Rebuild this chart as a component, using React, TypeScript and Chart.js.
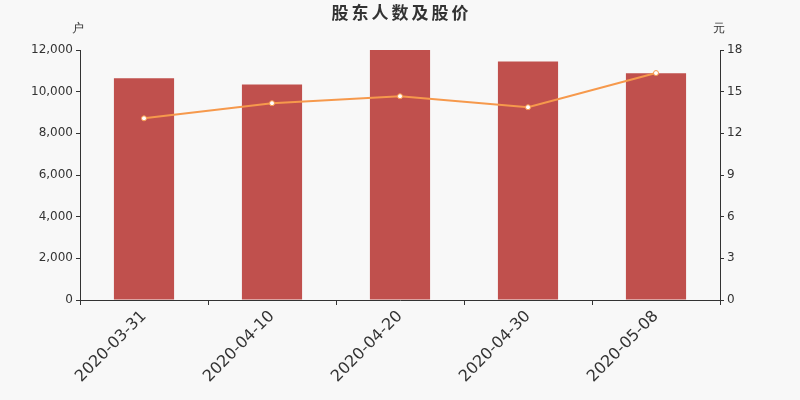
import { useEffect, useRef } from "react";
import { Chart, registerables } from "chart.js";

Chart.register(...registerables);

const dates = ["2020-03-31", "2020-04-10", "2020-04-20", "2020-04-30", "2020-05-08"];
const holders = [10650, 10340, 12000, 11450, 10890];
const prices = [13.08, 14.17, 14.67, 13.88, 16.34];
const leftTicks = [0, 2000, 4000, 6000, 8000, 10000, 12000];
const rightTicks = [0, 3, 6, 9, 12, 15, 18];

const FONT = "'DejaVu Sans', sans-serif";

// draws the title and the unit labels above both y axes
const extraText = {
  id: "extraText",
  beforeDraw(chart: Chart) {
    const { ctx } = chart;
    ctx.save();
    ctx.fillStyle = "#f8f8f8";
    ctx.fillRect(0, 0, chart.width, chart.height);
    ctx.restore();
  },
  afterDraw(chart: Chart) {
    const { ctx, chartArea } = chart;
    ctx.save();
    ctx.fillStyle = "#333";
    ctx.textAlign = "center";
    ctx.textBaseline = "middle";
    ctx.font = `bold 17px 'Noto Sans CJK SC', ${FONT}`;
    (ctx as any).letterSpacing = "3px";
    ctx.fillText("股东人数及股价", chart.width / 2 + 1.5, 13);
    (ctx as any).letterSpacing = "0px";
    ctx.font = `12px ${FONT}`;
    ctx.fillText("户", chartArea.left - 2, 29);
    ctx.fillText("元", chartArea.right - 1, 29);
    ctx.restore();
  },
};

export default function App() {
  const canvasRef = useRef<HTMLCanvasElement>(null);
  const chartRef = useRef<Chart | null>(null);

  useEffect(() => {
    document.body.style.margin = "0";
    const ctx = canvasRef.current?.getContext("2d");
    if (!ctx) return;

    chartRef.current = new Chart(ctx, {
      type: "bar",
      data: {
        labels: dates,
        datasets: [
          {
            type: "line",
            label: "股价",
            data: prices,
            yAxisID: "y1",
            borderColor: "#f6994c",
            borderWidth: 2,
            pointRadius: 2.5,
            pointBackgroundColor: "#fff",
            pointBorderColor: "#f6994c",
            pointBorderWidth: 1,
            tension: 0,
            order: 0,
          },
          {
            type: "bar",
            label: "股东人数",
            data: holders,
            yAxisID: "y",
            backgroundColor: "#c0504d",
            barPercentage: 0.47,
            categoryPercentage: 1,
            order: 1,
          },
        ],
      },
      options: {
        responsive: false,
        animation: false,
        layout: { padding: { top: 50, left: 0, right: 0, bottom: 0 } },
        plugins: {
          legend: { display: false },
          tooltip: { enabled: false },
        },
        scales: {
          x: {
            offset: true,
            grid: {
              offset: true,
              drawOnChartArea: false,
              drawTicks: true,
              tickLength: 5,
              color: "#333",
            },
            border: { color: "#333", width: 1 },
            ticks: {
              color: "#333",
              font: { family: FONT, size: 16 },
              maxRotation: 45,
              minRotation: 45,
              padding: 2,
            },
            afterFit(scale: any) {
              scale.height = 100;
            },
          },
          y: {
            position: "left",
            min: 0,
            max: 12000,
            afterBuildTicks(scale: any) {
              scale.ticks = leftTicks.map((v) => ({ value: v }));
            },
            grid: {
              drawOnChartArea: false,
              drawTicks: true,
              tickLength: 4,
              color: "#333",
            },
            border: { color: "#333", width: 1 },
            ticks: {
              color: "#333",
              font: { family: FONT, size: 12 },
              padding: 3,
              callback: (v: any) => Number(v).toLocaleString("en-US"),
            },
            afterFit(scale: any) {
              scale.width = 80;
            },
          },
          y1: {
            position: "right",
            min: 0,
            max: 18,
            afterBuildTicks(scale: any) {
              scale.ticks = rightTicks.map((v) => ({ value: v }));
            },
            grid: {
              drawOnChartArea: false,
              drawTicks: true,
              tickLength: 4,
              color: "#333",
            },
            border: { color: "#333", width: 1 },
            ticks: {
              color: "#333",
              font: { family: FONT, size: 12 },
              padding: 3,
            },
            afterFit(scale: any) {
              scale.width = 80;
            },
          },
        },
      },
      plugins: [extraText],
    });

    return () => {
      chartRef.current?.destroy();
      chartRef.current = null;
    };
  }, []);

  return (
    <div style={{ width: 800, height: 400 }}>
      <canvas ref={canvasRef} width={800} height={400} />
    </div>
  );
}
